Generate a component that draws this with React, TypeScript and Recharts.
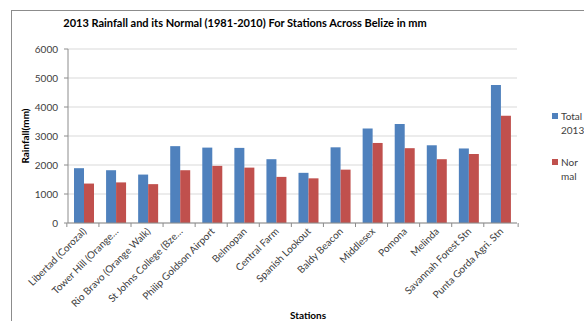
import React from "react";
import { BarChart, Bar, XAxis, YAxis, CartesianGrid, Legend } from "recharts";

// Stations et valeurs (mm)
const stations = [
  "Libertad (Corozal)",
  "Tower Hill (Orange…",
  "Rio Bravo (Orange Walk)",
  "St Johns College (Bze…",
  "Philip Goldson Airport",
  "Belmopan",
  "Central Farm",
  "Spanish Lookout",
  "Baldy Beacon",
  "Middlesex",
  "Pomona",
  "Melinda",
  "Savannah Forest Stn",
  "Punta Gorda Agri. Stn",
];
const total2013 = [1890, 1820, 1670, 2650, 2600, 2590, 2200, 1730, 2610, 3260, 3410, 2680, 2570, 4760];
const normal = [1360, 1400, 1340, 1820, 1970, 1910, 1590, 1540, 1840, 2760, 2580, 2200, 2380, 3700];
const yTicks = [0, 1000, 2000, 3000, 4000, 5000, 6000];

const seriesNames = ["Total 2013", "Normal"];
const legendLines: Record<string, string[]> = {
  "Total 2013": ["Total", "2013"],
  Normal: ["Nor", "mal"],
};

const chartData = stations.map((station, i) => ({
  station,
  total: total2013[i],
  normal: normal[i],
}));

const W = 584;
const H = 321;
const MARGIN = { top: 49, right: 35, bottom: 0, left: 12 };
const Y_WIDTH = 56;
const PLOT_W = W - MARGIN.left - Y_WIDTH - MARGIN.right;
const STEP = PLOT_W / stations.length;
const FONT = "Lato, 'Open Sans', sans-serif";

const StationTick = (props: any) => {
  const { x, y, payload, index } = props;
  const tx = x + 3;
  const ty = y + 9;
  return (
    <g>
      <line x1={x - STEP / 2} y1={y} x2={x - STEP / 2} y2={y + 4} stroke="#8c8c8c" />
      {index === stations.length - 1 && (
        <line x1={x + STEP / 2} y1={y} x2={x + STEP / 2} y2={y + 4} stroke="#8c8c8c" />
      )}
      <text
        x={tx}
        y={ty}
        textAnchor="end"
        fontSize={10}
        fill="#404040"
        fontFamily={FONT}
        transform={`rotate(-45, ${tx}, ${ty})`}
      >
        {payload.value}
      </text>
    </g>
  );
};

const renderLegend = (props: any) => {
  // garder l'ordre des séries (Total 2013 puis Normal)
  const items = [...props.payload].sort(
    (a: any, b: any) => seriesNames.indexOf(a.value) - seriesNames.indexOf(b.value)
  );
  return (
    <div style={{ fontFamily: FONT, fontSize: 10, color: "#404040", lineHeight: "14px" }}>
      {items.map((entry: any) => (
        <div key={entry.value} style={{ display: "flex", marginBottom: 18 }}>
          <div
            style={{
              width: 6,
              height: 6,
              background: entry.color,
              marginTop: 4,
              marginRight: 3,
              flexShrink: 0,
            }}
          />
          <div>
            {(legendLines[entry.value] || [entry.value]).map((l) => (
              <div key={l}>{l}</div>
            ))}
          </div>
        </div>
      ))}
    </div>
  );
};

const App = () => {
  return (
    <div style={{ position: "absolute", left: 0, top: 0, width: W, height: H, overflow: "hidden", background: "#fff" }}>
      <div
        style={{
          position: "absolute",
          left: 11,
          top: 10,
          width: 700,
          height: 400,
          borderTop: "1px solid #8c8c8c",
          borderLeft: "1px solid #8c8c8c",
        }}
      />
      <div
        style={{
          position: "absolute",
          left: 0,
          width: 490,
          top: 16,
          textAlign: "center",
          fontFamily: FONT,
          fontWeight: "bold",
          fontSize: 11,
          color: "#000",
        }}
      >
        2013 Rainfall and its Normal (1981-2010) For Stations Across Belize in mm
      </div>
      <div
        style={{
          position: "absolute",
          left: 25,
          top: 136,
          transform: "translate(-50%, -50%) rotate(-90deg)",
          fontFamily: FONT,
          fontWeight: "bold",
          fontSize: 10,
          whiteSpace: "nowrap",
          color: "#000",
        }}
      >
        Rainfall(mm)
      </div>
      <div
        style={{
          position: "absolute",
          left: 308,
          top: 315,
          transform: "translate(-50%, -50%)",
          fontFamily: FONT,
          fontWeight: "bold",
          fontSize: 10,
          color: "#000",
        }}
      >
        Stations
      </div>
      <div style={{ position: "absolute", left: 0, top: 0 }}>
        <BarChart width={W} height={H} data={chartData} margin={MARGIN} barGap={0} barSize={10}>
          <CartesianGrid vertical={false} stroke="#d9d9d9" />
          <XAxis
            dataKey="station"
            interval={0}
            height={H - MARGIN.top - 174}
            axisLine={{ stroke: "#8c8c8c" }}
            tickLine={false}
            tickSize={0}
            tickMargin={0}
            tick={<StationTick />}
          />
          <YAxis
            width={Y_WIDTH}
            domain={[0, 6000]}
            ticks={yTicks}
            axisLine={{ stroke: "#8c8c8c" }}
            tickLine={{ stroke: "#8c8c8c" }}
            tickSize={4}
            tickMargin={6}
            tick={{ fontSize: 10, fill: "#404040", fontFamily: FONT }}
          />
          <Legend
            layout="vertical"
            align="right"
            verticalAlign="top"
            wrapperStyle={{ left: 552, top: 109, width: 32 }}
            content={renderLegend}
          />
          <Bar dataKey="total" name={seriesNames[0]} fill="#4f81bd" isAnimationActive={false} />
          <Bar dataKey="normal" name={seriesNames[1]} fill="#c0504d" isAnimationActive={false} />
        </BarChart>
      </div>
    </div>
  );
};

export default App;
